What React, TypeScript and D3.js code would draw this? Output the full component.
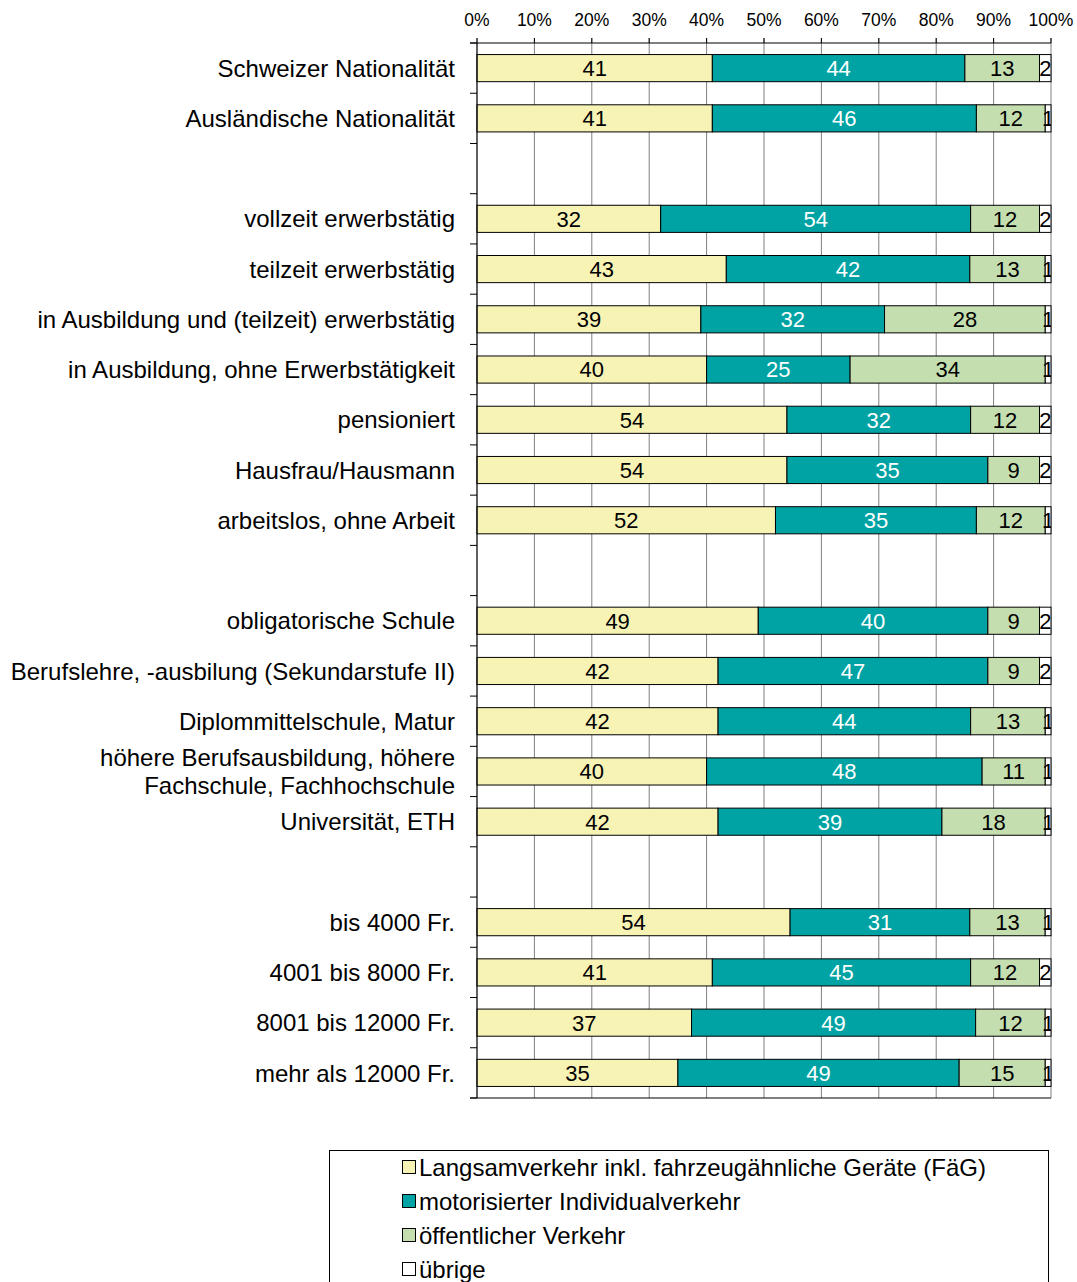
import React from "react";
import * as d3 from "d3";

const categories: string[] = [
  "Schweizer Nationalität",
  "Ausländische Nationalität",
  "",
  "vollzeit erwerbstätig",
  "teilzeit erwerbstätig",
  "in Ausbildung und (teilzeit) erwerbstätig",
  "in Ausbildung, ohne Erwerbstätigkeit",
  "pensioniert",
  "Hausfrau/Hausmann",
  "arbeitslos, ohne Arbeit",
  "",
  "obligatorische Schule",
  "Berufslehre, -ausbilung (Sekundarstufe II)",
  "Diplommittelschule, Matur",
  "höhere Berufsausbildung, höhere|Fachschule, Fachhochschule",
  "Universität, ETH",
  "",
  "bis 4000 Fr.",
  "4001 bis 8000 Fr.",
  "8001 bis 12000 Fr.",
  "mehr als 12000 Fr.",
];

const langsam: (number | null)[] = [41, 41, null, 32, 43, 39, 40, 54, 54, 52, null, 49, 42, 42, 40, 42, null, 54, 41, 37, 35];
const miv: (number | null)[] = [44, 46, null, 54, 42, 32, 25, 32, 35, 35, null, 40, 47, 44, 48, 39, null, 31, 45, 49, 49];
const oev: (number | null)[] = [13, 12, null, 12, 13, 28, 34, 12, 9, 12, null, 9, 9, 13, 11, 18, null, 13, 12, 12, 15];
const uebrige: (number | null)[] = [2, 1, null, 2, 1, 1, 1, 2, 2, 1, null, 2, 2, 1, 1, 1, null, 1, 2, 1, 1];

const seriesNames = [
  "Langsamverkehr inkl. fahrzeugähnliche Geräte (FäG)",
  "motorisierter Individualverkehr",
  "öffentlicher Verkehr",
  "übrige",
];
const seriesColors = ["#F7F3B5", "#00A3A3", "#C4DEB0", "#FFFFFF"];
const labelColors = ["#000", "#fff", "#000", "#000"];
const tickValues = [0, 0.1, 0.2, 0.3, 0.4, 0.5, 0.6, 0.7, 0.8, 0.9, 1];

const W = 1077;
const H = 1282;
const left = 477;
const right = 1051;
const top = 43;
const bottom = 1098;
const FONT = "'Liberation Sans', Arial, sans-serif";

export default function App() {
  const x = d3.scaleLinear().domain([0, 1]).range([left, right]);
  const idx = categories.map((_, i) => i);
  const y = d3.scaleBand<number>().domain(idx).range([top, bottom]).paddingInner(0.46).paddingOuter(0.23);
  const step = (bottom - top) / categories.length;
  const allSeries = [langsam, miv, oev, uebrige];

  const rows = idx.map((i) => {
    const vals = allSeries.map((s) => s[i]);
    if (vals.some((v) => v == null)) return null;
    const total = d3.sum(vals as number[]);
    let acc = 0;
    return (vals as number[]).map((v, k) => {
      const x0 = acc / total;
      acc += v;
      const x1 = acc / total;
      return { k, v, x0, x1 };
    });
  });

  return (
    <svg width={W} height={H} style={{ position: "absolute", left: 0, top: 0, background: "#fff" }} fontFamily={FONT}>
      <defs>
        <clipPath id="plotclip">
          <rect x={left} y={top} width={right - left} height={bottom - top} />
        </clipPath>
      </defs>
      {/* gridlines */}
      {tickValues.map((t) => (
        <line key={"g" + t} x1={x(t)} x2={x(t)} y1={top - 5} y2={bottom} stroke="#808080" strokeWidth={1} />
      ))}
      {/* bars */}
      {rows.map((r, i) =>
        r
          ? r.map((seg) => (
              <rect
                key={`b${i}-${seg.k}`}
                x={x(seg.x0)}
                y={y(i)!}
                width={x(seg.x1) - x(seg.x0)}
                height={y.bandwidth()}
                fill={seriesColors[seg.k]}
                stroke="#000"
                strokeWidth={1}
              />
            ))
          : null
      )}
      {/* value labels */}
      <g clipPath="url(#plotclip)">
        {rows.map((r, i) =>
          r
            ? r.map((seg) => (
                <text
                  key={`t${i}-${seg.k}`}
                  x={(x(seg.x0) + x(seg.x1)) / 2}
                  y={y(i)! + y.bandwidth() / 2}
                  dy="0.36em"
                  textAnchor="middle"
                  fontSize={22}
                  fill={labelColors[seg.k]}
                >
                  {seg.v}
                </text>
              ))
            : null
        )}
      </g>
      {/* axes lines */}
      <line x1={left - 7} x2={right} y1={top} y2={top} stroke="#000" />
      <line x1={left - 7} x2={right} y1={bottom} y2={bottom} stroke="#000" />
      <line x1={left} x2={left} y1={top} y2={bottom} stroke="#000" />
      {d3.range(categories.length + 1).map((j) => (
        <line key={"yt" + j} x1={left - 7} x2={left} y1={top + j * step} y2={top + j * step} stroke="#000" />
      ))}
      {tickValues.map((t) => (
        <line key={"xt" + t} x1={x(t)} x2={x(t)} y1={top - 5} y2={top} stroke="#000" />
      ))}
      {tickValues.map((t) => (
        <text key={"xl" + t} x={x(t)} y={20} dy="0.36em" textAnchor="middle" fontSize={17.5} fill="#000">
          {d3.format(".0%")(t)}
        </text>
      ))}
      {/* category labels */}
      {categories.map((c, i) => {
        const lines = c.split("|");
        const cy = y(i)! + y.bandwidth() / 2;
        return lines.map((ln, li) => (
          <text
            key={`c${i}-${li}`}
            x={455}
            y={cy + (li - (lines.length - 1) / 2) * 28}
            dy="0.36em"
            textAnchor="end"
            fontSize={24}
            fill="#000"
          >
            {ln}
          </text>
        ));
      })}
      {/* legend */}
      <rect x={329.5} y={1150.5} width={719} height={140} fill="#fff" stroke="#000" strokeWidth={1} />
      {seriesNames.map((n, k) => {
        const cy = 1167 + k * 34;
        return (
          <g key={"lg" + k}>
            <rect x={402.5} y={cy - 6.5} width={13} height={13} fill={seriesColors[k]} stroke="#000" strokeWidth={1} />
            <text x={419} y={cy} dy="0.36em" fontSize={24} fill="#000">
              {n}
            </text>
          </g>
        );
      })}
    </svg>
  );
}
